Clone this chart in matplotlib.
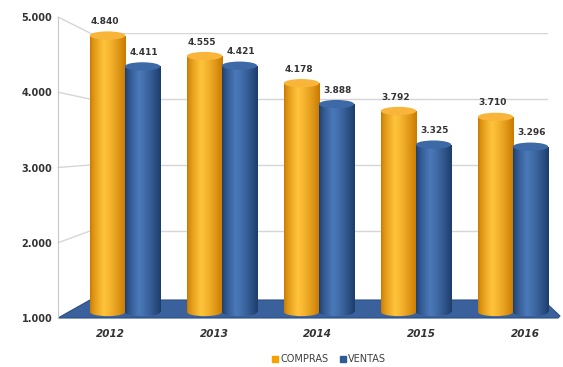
import numpy as np
import matplotlib
matplotlib.use("Agg")
import matplotlib.pyplot as plt
from matplotlib.patches import Rectangle, Ellipse, Polygon
from matplotlib.patches import ConnectionPatch
from matplotlib.lines import Line2D
from matplotlib.colors import to_rgb

years = ["2012", "2013", "2014", "2015", "2016"]
compras = [4840, 4555, 4178, 3792, 3710]
ventas = [4411, 4421, 3888, 3325, 3296]
yticks = [1000, 2000, 3000, 4000, 5000]
ytick_labels = ["1.000", "2.000", "3.000", "4.000", "5.000"]

W, H = 563, 367
fig = plt.figure(figsize=(W / 100, H / 100), dpi=100)
fig.patch.set_facecolor("white")


def rect(x0, y0, x1, y1):
    return [x0 / W, 1 - y1 / H, (x1 - x0) / W, (y1 - y0) / H]


# background axes in pixel units (decoration: floor)
bg = fig.add_axes([0, 0, 1, 1], zorder=0)
bg.set_xlim(0, W)
bg.set_ylim(H, 0)
bg.axis("off")
floor = Polygon([(58, 318), (90, 300), (543, 300), (560, 316), (558, 318)],
                closed=True, facecolor="#3a619c", edgecolor="#2a4f85", lw=0.8)
bg.add_patch(floor)

# back wall axes
wall = fig.add_axes(rect(90, 33, 548, 297), zorder=1)
wall.set_xlim(0, 1)
wall.set_ylim(1000, 5000)
wall.patch.set_alpha(0)
for s in wall.spines.values():
    s.set_visible(False)
wall.set_xticks([])
wall.set_yticks([])
for v in yticks[1:]:
    wall.axhline(v, color="#d6d6d6", lw=1.0)
wall.axvline(0, color="#d6d6d6", lw=1.0, ymin=0, ymax=1)

# front axes (labels)
front = fig.add_axes(rect(58, 17, 558, 318), zorder=2)
front.set_xlim(-0.5, 4.31)
front.set_ylim(1000, 5000)
front.patch.set_alpha(0)
for k, s in front.spines.items():
    s.set_visible(k == "left")
front.spines["left"].set_color("#c8c8c8")
front.set_yticks(yticks)
front.set_yticklabels(ytick_labels, fontsize=7, fontweight="bold", color="#333333")
front.set_xticks(range(len(years)))
front.set_xticklabels(years, fontsize=7.5, fontweight="bold", style="italic", color="#333333")
front.tick_params(axis="both", length=0, pad=4)
front.tick_params(axis="x", pad=8)

for v in yticks[1:]:
    con = ConnectionPatch(xyA=(-0.5, v), coordsA=front.transData,
                          xyB=(0, v), coordsB=wall.transData,
                          color="#d6d6d6", lw=1.0)
    fig.add_artist(con)

# bar axes (1000 at pixel 312, 5000 at pixel 24; extended below for the bottom caps)
bars = fig.add_axes(rect(90, 24, 555, 320), zorder=3)
ylo = 1000 - 8 / 0.072
bars.patch.set_alpha(0)
bars.axis("off")

bw = 0.365
eh = 115


def gradient(c_edge, c_hi, n=64):
    t = np.linspace(0, 1, n)
    e, h = np.array(to_rgb(c_edge)), np.array(to_rgb(c_hi))
    out = np.zeros((1, n, 3))
    for i, tt in enumerate(t):
        if tt < 0.38:
            f = tt / 0.38
            c = e + (h - e) * (f ** 0.7)
        else:
            f = (tt - 0.38) / 0.62
            c = h + (e - h) * (f ** 1.3)
        out[0, i] = c
    return out


orange_g = gradient("#c97a00", "#ffc23a")
blue_g = gradient("#1d3d6b", "#4a78b8")


def cylinder(ax, xc, v, grad, top_col):
    x0, x1 = xc - bw / 2, xc + bw / 2
    body = Rectangle((x0, 1000), bw, v - 1000, transform=ax.transData)
    im = ax.imshow(grad, extent=(x0, x1, 1000, v), aspect="auto", zorder=2)
    im.set_clip_path(body)
    bot = Ellipse((xc, 1000), bw, eh, transform=ax.transData)
    im2 = ax.imshow(grad, extent=(x0, x1, 1000 - eh, 1000 + eh), aspect="auto", zorder=2)
    im2.set_clip_path(bot)
    ax.add_patch(Ellipse((xc, v), bw, eh, facecolor=top_col, edgecolor="none", zorder=3))


for i in range(len(years)):
    cylinder(bars, i - 0.18, compras[i], orange_g, "#f9b53a")
    cylinder(bars, i + 0.18, ventas[i], blue_g, "#3d69a6")
    bars.annotate(f"{compras[i]:,}".replace(",", "."), (i - 0.18, compras[i]),
                  xytext=(-2, 10), textcoords="offset points", ha="center", va="center",
                  fontsize=6.5, fontweight="bold", color="#333333", zorder=5)
    bars.annotate(f"{ventas[i]:,}".replace(",", "."), (i + 0.18, ventas[i]),
                  xytext=(1, 10), textcoords="offset points", ha="center", va="center",
                  fontsize=6.5, fontweight="bold", color="#333333", zorder=5)
bars.set_xlim(-0.361, 4.433)
bars.set_ylim(ylo, 5000)

handles = [Line2D([], [], marker="s", ls="none", color="#f5a100", markersize=5),
           Line2D([], [], marker="s", ls="none", color="#2f5b97", markersize=5)]
fig.legend(handles, ["COMPRAS", "VENTAS"], loc="center", bbox_to_anchor=(328 / W, 1 - 359 / H),
           ncol=2, frameon=False, fontsize=7, handletextpad=0.0, columnspacing=1.0,
           labelcolor="#404040", handlelength=1.0)

fig.savefig("out.png", dpi=100, facecolor="white")
